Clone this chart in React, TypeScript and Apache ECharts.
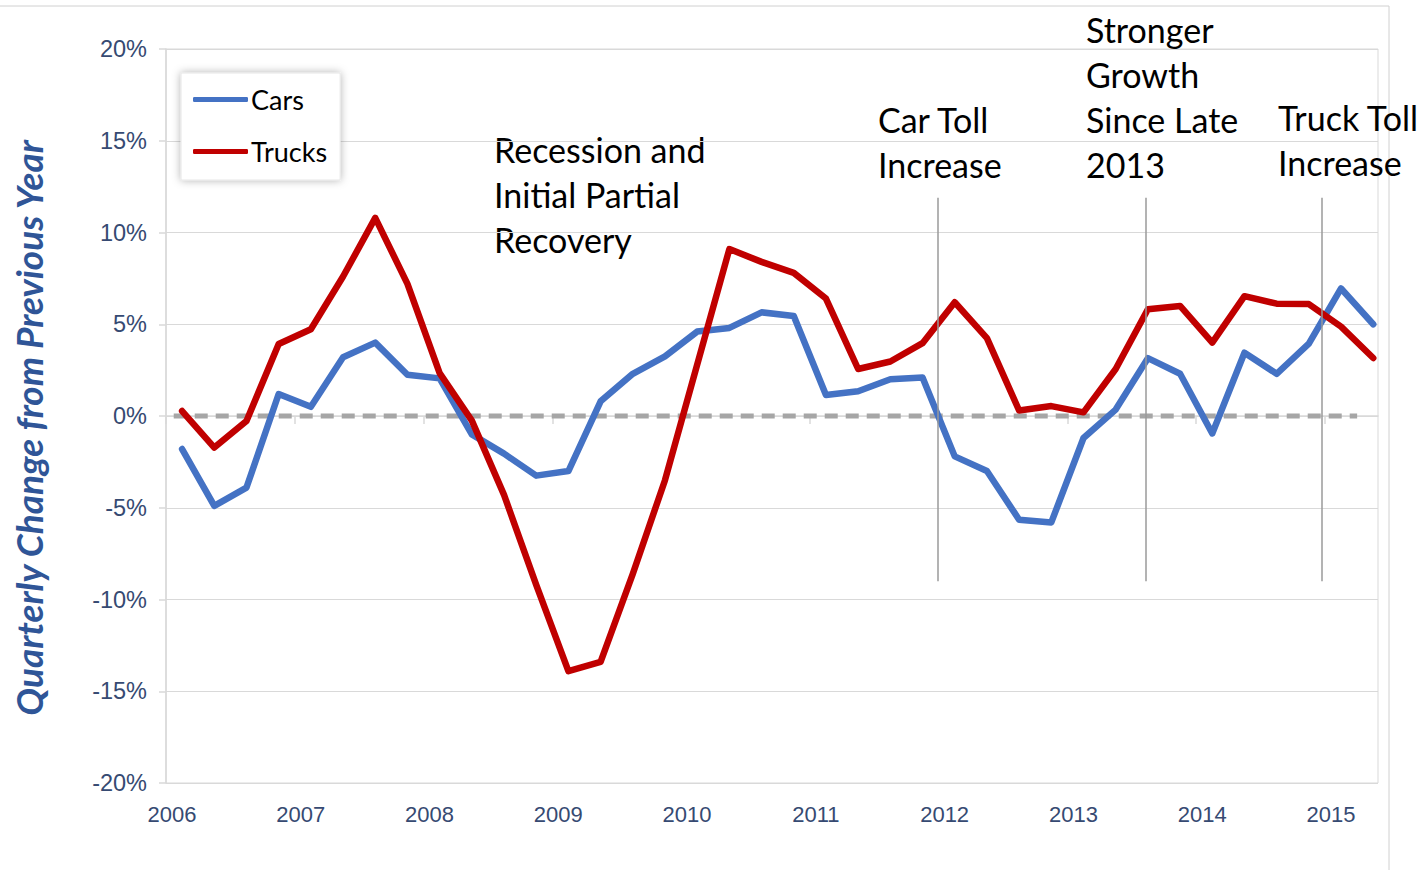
import React, { useEffect, useRef } from "react";
import * as echarts from "echarts";

// Quarters 2006 Q1 .. 2015 Q2
const years = [2006, 2007, 2008, 2009, 2010, 2011, 2012, 2013, 2014, 2015];
const quarterLabels = [
  "2006 Q1", "2006 Q2", "2006 Q3", "2006 Q4",
  "2007 Q1", "2007 Q2", "2007 Q3", "2007 Q4",
  "2008 Q1", "2008 Q2", "2008 Q3", "2008 Q4",
  "2009 Q1", "2009 Q2", "2009 Q3", "2009 Q4",
  "2010 Q1", "2010 Q2", "2010 Q3", "2010 Q4",
  "2011 Q1", "2011 Q2", "2011 Q3", "2011 Q4",
  "2012 Q1", "2012 Q2", "2012 Q3", "2012 Q4",
  "2013 Q1", "2013 Q2", "2013 Q3", "2013 Q4",
  "2014 Q1", "2014 Q2", "2014 Q3", "2014 Q4",
  "2015 Q1", "2015 Q2",
];

const cars = [
  -1.8, -4.9, -3.9, 1.2, 0.5, 3.2, 4.0, 2.25, 2.05, -1.0, -2.05, -3.25, -3.0,
  0.8, 2.3, 3.25, 4.6, 4.8, 5.65, 5.45, 1.15, 1.35, 2.0, 2.1, -2.2, -3.0, -5.65,
  -5.8, -1.2, 0.35, 3.15, 2.3, -0.95, 3.45, 2.3, 3.95, 6.95, 5.0,
];

const trucks = [
  0.27, -1.72, -0.27, 3.92, 4.73, 7.6, 10.8, 7.2, 2.34, -0.25, -4.3, -9.2,
  -13.9, -13.4, -8.6, -3.5, 2.8, 9.1, 8.4, 7.8, 6.4, 2.56, 2.97, 3.97, 6.2,
  4.24, 0.3, 0.54, 0.2, 2.56, 5.82, 6.0, 4.0, 6.53, 6.12, 6.1, 4.87, 3.16,
];

const yTicks = [-20, -15, -10, -5, 0, 5, 10, 15, 20];

// Event marker lines (x in decimal years, y range in %)
const eventLines = [
  { x: 2011.99, yTop: 11.9, yBottom: -9.0 },
  { x: 2013.61, yTop: 11.9, yBottom: -9.0 },
  { x: 2014.975, yTop: 11.9, yBottom: -9.0 },
];
const zeroLineSpan = [2006.06, 2015.25];

const annotations = [
  { lines: ["Recession and", "Initial Partial", "Recovery"], left: 494, top: 127 },
  { lines: ["Car Toll", "Increase"], left: 878, top: 97 },
  { lines: ["Stronger", "Growth", "Since Late", "2013"], left: 1086, top: 7 },
  { lines: ["Truck Toll", "Increase"], left: 1278, top: 95 },
];

const quarterToX = (label: string) => {
  const [y, q] = label.split(" Q");
  return Number(y) + (Number(q) - 1) / 4 + 0.125;
};

export default function App() {
  const ref = useRef<HTMLDivElement>(null);
  useEffect(() => {
    if (!ref.current) return;
    const chart = echarts.init(ref.current, undefined, { renderer: "svg" });
    const axisColor = "#d9d9d9";
    const labelColor = "#364a72";
    const carsData = quarterLabels.map((q, i) => [quarterToX(q), cars[i]]);
    const trucksData = quarterLabels.map((q, i) => [quarterToX(q), trucks[i]]);

    const graphics: any[] = [
      {
        type: "rect",
        shape: { x: -1, y: 6, width: 1390, height: 900 },
        style: { fill: "none", stroke: "#d0d0d0", lineWidth: 1 },
        silent: true,
        z: -10,
      },
      {
        type: "text",
        x: 28,
        y: 428,
        rotation: Math.PI / 2,
        style: {
          text: "Quarterly Change from Previous Year",
          fontFamily: "Lato",
          fontWeight: "bold",
          fontStyle: "italic",
          fontSize: 37,
          fill: "#2f5597",
          align: "center",
          verticalAlign: "middle",
        },
      },
    ];
    annotations.forEach((a) => {
      graphics.push({
        type: "text",
        x: a.left,
        y: a.top,
        style: {
          text: a.lines.join("\n"),
          fontFamily: "Lato",
          fontSize: 34,
          lineHeight: 45,
          fill: "#000",
          align: "left",
          verticalAlign: "top",
        },
      });
    });

    chart.setOption({
      animation: false,
      backgroundColor: "#fff",
      grid: {
        left: 166,
        top: 49,
        width: 1212,
        height: 734,
        show: true,
        borderColor: axisColor,
        borderWidth: 1,
        containLabel: false,
      },
      legend: {
        data: ["Cars", "Trucks"],
        orient: "vertical",
        left: 181,
        top: 73,
        icon: "roundRect",
        itemWidth: 55,
        itemHeight: 5,
        itemGap: 25,
        padding: [13, 13, 15, 12],
        backgroundColor: "#fff",
        borderColor: "#e6e6e6",
        borderWidth: 1,
        shadowBlur: 8,
        shadowColor: "rgba(0,0,0,0.3)",
        textStyle: { fontFamily: "Lato", fontSize: 27, color: "#000", padding: [0, 0, 0, -2] },
      },
      xAxis: {
        type: "value",
        min: 2006,
        max: 2015.412,
        splitLine: { show: false },
        axisLine: { show: true, lineStyle: { color: axisColor, width: 1.5 } },
        axisTick: {
          show: true,
          customValues: years,
          length: 8,
          lineStyle: { color: axisColor, width: 1.5 },
        },
        axisLabel: {
          customValues: years,
          formatter: (v: number) => String(Math.round(v)),
          fontFamily: "Liberation Sans",
          fontSize: 22,
          color: labelColor,
          margin: 20,
          padding: [0, 0, 0, 12],
        },
      },
      yAxis: {
        type: "value",
        min: -20,
        max: 20,
        interval: 5,
        axisLine: { show: true, lineStyle: { color: axisColor, width: 1.5 } },
        axisTick: { show: true, length: 7, lineStyle: { color: axisColor, width: 1.5 } },
        splitLine: { show: true, lineStyle: { color: axisColor, width: 1 } },
        axisLabel: {
          formatter: (v: number) => (yTicks.includes(v) ? `${v}%` : ""),
          fontFamily: "Liberation Sans",
          fontSize: 23.5,
          color: labelColor,
          margin: 19,
        },
      },
      series: [
        {
          name: "zero",
          type: "line",
          data: zeroLineSpan.map((x) => [x, 0]),
          symbol: "none",
          silent: true,
          lineStyle: { color: "#a6a6a6", width: 5, type: [13, 8] },
          z: 1,
          markLine: {
            silent: true,
            symbol: "none",
            label: { show: false },
            lineStyle: { color: "#9a9a9a", width: 1.5, type: "solid" },
            data: eventLines.map((e) => [
              { coord: [e.x, e.yTop] },
              { coord: [e.x, e.yBottom] },
            ]),
          },
        },
        {
          name: "Cars",
          type: "line",
          data: carsData,
          symbol: "none",
          color: "#4472c4",
          lineStyle: { color: "#4472c4", width: 6.5, join: "round", cap: "round" },
          z: 3,
        },
        {
          name: "Trucks",
          type: "line",
          data: trucksData,
          symbol: "none",
          color: "#c00000",
          lineStyle: { color: "#c00000", width: 6.5, join: "round", cap: "round" },
          z: 4,
        },
      ],
      graphic: graphics,
    });
    return () => chart.dispose();
  }, []);
  return (
    <div
      ref={ref}
      style={{ position: "absolute", left: 0, top: 0, width: 1425, height: 870 }}
    />
  );
}
